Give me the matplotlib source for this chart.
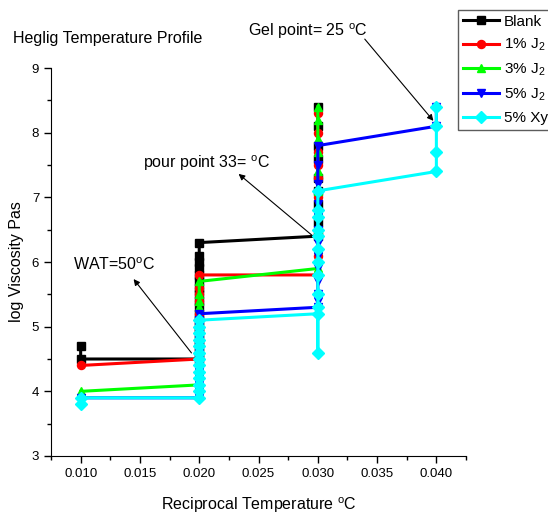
import matplotlib
matplotlib.use("Agg")
import matplotlib.pyplot as plt
from matplotlib.ticker import MultipleLocator, FormatStrFormatter

plt.rcParams['font.family'] = ['Liberation Sans', 'DejaVu Sans']
plt.rcParams['mathtext.fontset'] = 'custom'
plt.rcParams['mathtext.rm'] = 'Liberation Sans'
plt.rcParams['mathtext.it'] = 'Liberation Sans'

# reciprocal temperature levels (1/degC)
recip_temp = [0.010, 0.020, 0.030, 0.040]

# log viscosity readings at each temperature level, in measurement order
blank = [[4.7, 4.5],
         [4.5, 4.6, 4.7, 4.8, 4.9, 5.0, 5.1, 5.2, 5.3, 5.4, 5.5, 5.6, 5.7, 5.8, 5.9, 6.0, 6.1, 6.3],
         [6.4, 6.6, 6.9, 7.1, 7.3, 7.6, 7.8, 8.1, 8.4],
         []]
j2_1 = [[4.4],
        [4.5, 4.6, 4.8, 5.0, 5.2, 5.4, 5.5, 5.6, 5.8],
        [5.8, 6.1, 6.4, 6.7, 7.0, 7.3, 7.5, 7.7, 8.0, 8.3],
        []]
j2_3 = [[4.0],
        [4.1, 4.3, 4.5, 4.7, 4.9, 5.1, 5.3, 5.4, 5.5, 5.7],
        [5.9, 6.2, 6.5, 6.8, 7.1, 7.4, 7.7, 7.9, 8.2, 8.4],
        []]
j2_5 = [[3.85, 3.9],
        [3.9, 4.0, 4.1, 4.2, 4.3, 4.4, 4.5, 4.6, 4.7, 4.8, 4.9, 5.0, 5.1, 5.2],
        [5.3, 5.4, 5.5, 5.7, 5.9, 6.1, 6.3, 6.5, 6.7, 6.9, 7.2, 7.5, 7.8],
        [8.1, 8.4]]
xylene_5 = [[3.8, 3.9],
            [3.9, 4.0, 4.1, 4.2, 4.3, 4.4, 4.5, 4.6, 4.7, 4.8, 4.9, 5.0, 5.1],
            [5.2, 4.6, 5.3, 5.5, 5.8, 6.0, 6.2, 6.4, 6.5, 6.7, 6.8, 7.1],
            [7.4, 7.7, 8.1, 8.4]]

series = [
    ('Blank', blank, 'black', 's'),
    ('1% J$_2$', j2_1, 'red', 'o'),
    ('3% J$_2$', j2_3, '#00ff00', '^'),
    ('5% J$_2$', j2_5, 'blue', 'v'),
    ('5% Xylene', xylene_5, 'cyan', 'D'),
]


def flatten(groups):
    xs, ys = [], []
    for t, vals in zip(recip_temp, groups):
        xs += [t] * len(vals)
        ys += vals
    return xs, ys


fig = plt.figure(figsize=(5.48, 5.18), dpi=100)
ax = fig.add_axes([0.0931, 0.1197, 0.7573, 0.7490])

for label, groups, color, marker in series:
    xs, ys = flatten(groups)
    ax.plot(xs, ys, color=color, marker=marker, ms=5.8, lw=2.2, label=label)

ax.set_xlim(0.0075, 0.0425)
ax.set_ylim(3, 9)
ax.xaxis.set_major_locator(MultipleLocator(0.005))
ax.xaxis.set_minor_locator(MultipleLocator(0.0025))
ax.xaxis.set_major_formatter(FormatStrFormatter('%.3f'))
ax.yaxis.set_major_locator(MultipleLocator(1))
ax.yaxis.set_minor_locator(MultipleLocator(0.5))
ax.tick_params(which='major', direction='out', length=5, width=1, labelsize=9.5)
ax.tick_params(which='minor', direction='out', length=3, width=1)
for side in ('top', 'right'):
    ax.spines[side].set_visible(False)

ax.set_xlabel('Reciprocal Temperature $^{\\rm o}$C', fontsize=11.5, labelpad=11)
ax.set_ylabel('log Viscosity Pas', fontsize=11.5, labelpad=6)
fig.text(13 / 548, 1 - 38 / 518, 'Heglig Temperature Profile', fontsize=11.5, va='center')

arrow = dict(arrowstyle='-|>', color='black', lw=0.8, mutation_scale=9)
ax.text(0.00932, 5.96, 'WAT=50$^{\\rm o}$C', fontsize=11.5, va='center')
ax.annotate('', xy=(0.01432, 5.77), xytext=(0.01949, 4.56), arrowprops=arrow)
ax.text(0.01525, 7.53, 'pour point 33= $^{\\rm o}$C', fontsize=11.5, va='center')
ax.annotate('', xy=(0.02314, 7.39), xytext=(0.02966, 6.39), arrowprops=arrow)
ax.text(0.02415, 9.57, 'Gel point= 25 $^{\\rm o}$C', fontsize=11.5, va='center', clip_on=False)
ax.annotate('', xy=(0.0399, 8.15), xytext=(0.03381, 9.48), arrowprops=arrow,
            annotation_clip=False)

leg = fig.legend(loc='upper left', bbox_to_anchor=(458 / 548, 1 - 10 / 518),
                 fontsize=11, frameon=True, fancybox=False, edgecolor='#333333',
                 borderpad=0.3, labelspacing=0.55, handlelength=2.4,
                 handletextpad=0.3, borderaxespad=0)
leg.get_frame().set_linewidth(1)

fig.savefig('out.png', dpi=100)
